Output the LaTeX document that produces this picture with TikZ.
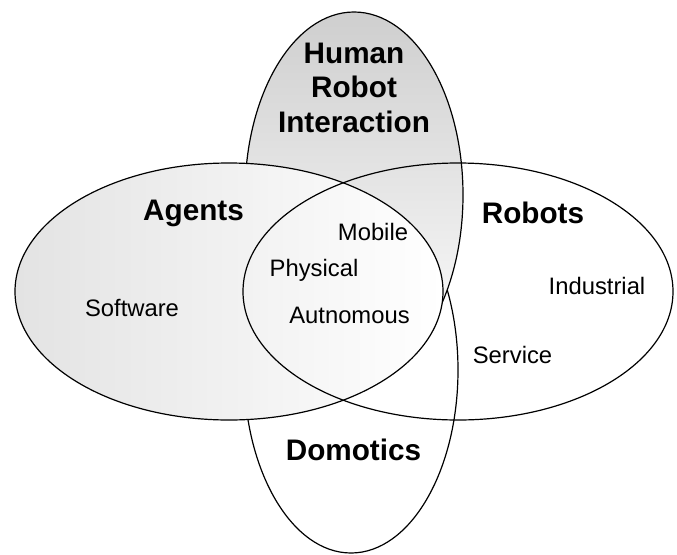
\documentclass[tikz,border=0pt]{standalone}
\usepackage{fontspec}
\setmainfont{Liberation Sans}
\usetikzlibrary{shapes.geometric}

\tikzset{
  set/.style={ellipse, draw, line width=1.2pt, inner sep=0pt, outer sep=0pt},
  setname/.style={font=\fontsize{29.7}{34}\selectfont\bfseries, anchor=base, inner sep=0pt},
  member/.style={font=\fontsize{23.8}{28}\selectfont, anchor=base, inner sep=0pt},
}

\begin{document}
\begin{tikzpicture}[x=1pt,y=-1pt]
  \useasboundingbox (0,0) rectangle (677,554);
  % the four sets, back to front
  \node[set, fill=white, minimum width=214pt, minimum height=366pt] (domotics) at (351,370) {};
  \node[set, top color=black!19, bottom color=white, minimum width=218pt, minimum height=366pt] (hri) at (354,195) {};
  \node[set, left color=black!11, right color=white, minimum width=428pt, minimum height=257pt] (agents) at (229,291.5) {};
  \node[set, minimum width=430pt, minimum height=257pt] (robots) at (458,291.5) {};

  % set names
  \node[setname] (hri-1) at (354,63) {Human};
  \node[setname] (hri-2) at (354,97) {Robot};
  \node[setname] (hri-3) at (354,132) {Interaction};
  \node[setname] (agents-name) at (193.5,220) {Agents};
  \node[setname] (robots-name) at (533,223) {Robots};
  \node[setname] (domotics-name) at (353.5,460) {Domotics};

  % members
  \node[member] (software) at (132,316) {Software};
  \node[member] (industrial) at (597,294) {Industrial};
  \node[member] (service) at (512.5,363) {Service};
  \node[member] (mobile) at (373,240) {Mobile};
  \node[member] (physical) at (314,276) {Physical};
  \node[member] (autnomous) at (349.5,323) {Autnomous};
\end{tikzpicture}
\end{document}
